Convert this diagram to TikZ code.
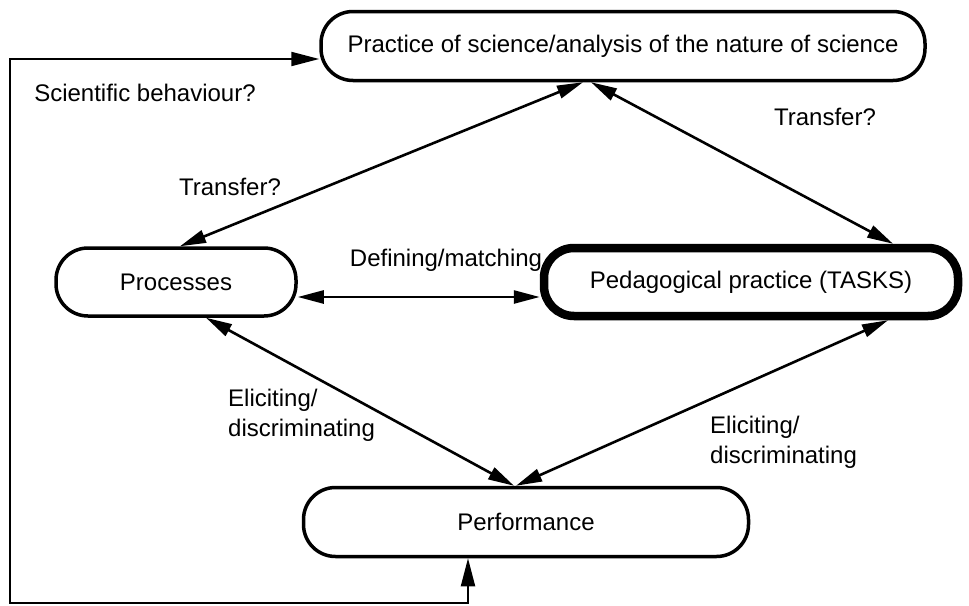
\documentclass[tikz,border=0pt]{standalone}
\usepackage{fontspec}
\setmainfont{Liberation Sans}
\usetikzlibrary{arrows.meta,calc}
\begin{document}
\begin{tikzpicture}[x=1pt,y=-1pt,
  box/.style={draw,line width=3.5pt,rounded corners=32pt,align=center,inner sep=0pt},
  lbl/.style={font=\fontsize{24}{30}\selectfont,inner sep=0pt},
  conn/.style={line width=2.6pt,{Triangle[length=26pt,width=13pt]}-{Triangle[length=26pt,width=13pt]}},
  loopline/.style={line width=2pt,{Triangle[length=28pt,width=14pt]}-{Triangle[length=28pt,width=14pt]}}]
\useasboundingbox (0,0) rectangle (969,605);
\node[box,lbl,minimum width=604pt,minimum height=69pt] (top) at (623,46) {Practice of science/analysis of the nature of science};
\node[box,lbl,minimum width=240pt,minimum height=68pt] (proc) at (176,282) {Processes};
\node[box,lbl,line width=8.5pt,minimum width=414pt,minimum height=68pt,rounded corners=30pt] (ped) at (751,282) {Pedagogical practice (TASKS)};
\node[box,lbl,minimum width=445pt,minimum height=69pt] (perf) at (526,522) {Performance};
\coordinate (lb) at (10,603);
\draw[conn] ([xshift=-40pt]top.south) -- ([xshift=4pt]proc.north);
\draw[conn] ([xshift=-32pt]top.south) -- ([xshift=142pt]ped.north);
\draw[conn] ([yshift=-15pt]proc.east) -- ([yshift=-15pt]ped.west);
\draw[conn] ([xshift=30pt]proc.south) -- ([xshift=-12pt]perf.north);
\draw[conn] ([xshift=137pt]ped.south) -- ([xshift=-10pt]perf.north);
\draw[loopline] ([xshift=-58pt]perf.south) |- (lb) |- ([yshift=-13pt]top.west);
\node[lbl] (sb) at (145,93) {Scientific behaviour?};
\node[lbl] (tl) at (230,187) {Transfer?};
\node[lbl] (tr) at (825,117) {Transfer?};
\node[lbl] (dm) at (446,260) {Defining/matching};
\node[lbl,anchor=west,align=left] (el) at (228,415) {Eliciting/\\discriminating};
\node[lbl,anchor=west,align=left] (er) at (710,442) {Eliciting/\\discriminating};
\end{tikzpicture}
\end{document}
